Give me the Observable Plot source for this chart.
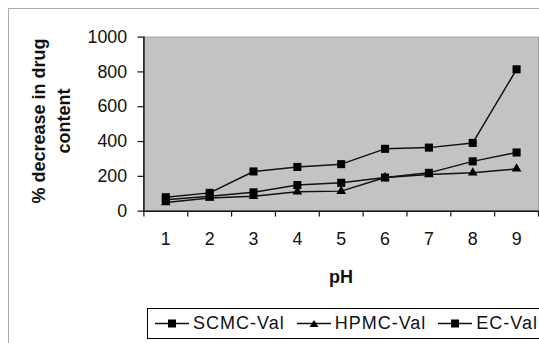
<!DOCTYPE html>
<html>
<head>
<meta charset="utf-8">
<script src="https://cdn.jsdelivr.net/npm/d3@7"></script>
<script src="https://cdn.jsdelivr.net/npm/@observablehq/plot@0.6"></script>
<style>
  html, body { margin: 0; padding: 0; background: #fff; }
  #wrap { position: relative; width: 539px; height: 343px; overflow: hidden; font-family: "Liberation Sans", Arial, sans-serif; color: #111; }
  #border { position: absolute; left: 8px; top: 8px; width: 560px; height: 400px; border: 1px solid #a3adb8; box-sizing: border-box; }
  #chart { position: absolute; left: 0; top: 0; }
  #ytitle { position: absolute; left: 52px; top: 121px; transform: translate(-50%, -50%) rotate(-90deg); font-weight: bold; font-size: 18px; line-height: 25px; text-align: center; white-space: nowrap; }
  #xtitle { position: absolute; left: 341px; top: 277px; transform: translate(-50%, -50%); font-weight: bold; font-size: 18px; }
  #legend { position: absolute; left: 147px; top: 308px; width: 420px; height: 31px; border: 1px solid #000; box-sizing: border-box; display: flex; align-items: center; font-size: 18px; letter-spacing: 1px; white-space: nowrap; }
  #legend .item { display: flex; align-items: center; flex-shrink: 0; margin-left: 7px; margin-right: 5px; }
  #legend svg { margin-right: 4px; flex-shrink: 0; }
</style>
</head>
<body>
<div id="wrap">
  <div id="border"></div>
  <div id="chart"></div>
  <div id="ytitle">% decrease in drug<br>content</div>
  <div id="xtitle">pH</div>
  <div id="legend"></div>
</div>
<script>
const pH = [1, 2, 3, 4, 5, 6, 7, 8, 9];
const scmcVal = [80, 105, 228, 254, 270, 358, 365, 392, 815];
const hpmcVal = [50, 75, 85, 112, 115, 193, 210, 220, 243];
const ecVal = [65, 85, 108, 150, 163, 193, 220, 286, 337];
const seriesNames = ["SCMC-Val", "HPMC-Val", "EC-Val"];
const seriesSymbols = ["square", "triangle", "square"];
const yTicks = [0, 200, 400, 600, 800, 1000];
const xTicks = [1, 2, 3, 4, 5, 6, 7, 8, 9];
const xBoundaryTicks = [0.5, 1.5, 2.5, 3.5, 4.5, 5.5, 6.5, 7.5, 8.5, 9.5];

const seriesValues = [scmcVal, hpmcVal, ecVal];
const data = [];
seriesNames.forEach((name, i) => {
  pH.forEach((p, j) => data.push({series: name, pH: p, value: seriesValues[i][j], symbol: seriesSymbols[i]}));
});

const plot = Plot.plot({
  width: 545,
  height: 343,
  marginLeft: 145,
  marginRight: 1,
  marginTop: 37,
  marginBottom: 130,
  style: {fontFamily: "'Liberation Sans', Arial, sans-serif", fontSize: "18px", color: "#111", background: "transparent"},
  x: {domain: [0.5, 9.5], label: null},
  y: {domain: [0, 1000], label: null},
  symbol: {domain: ["square", "triangle"], range: ["square", "triangle"]},
  marks: [
    Plot.frame({fill: "#c3c3c3", stroke: "#9c9c9c"}),
    Plot.axisY({ticks: yTicks, tickFormat: d => String(d), tickSize: 6, tickPadding: 11, label: null, stroke: "#111", strokeWidth: 1.2}),
    Plot.axisX({ticks: xTicks, tickFormat: d => String(d), tickSize: 0, tickPadding: 21, label: null}),
    Plot.axisX({ticks: xBoundaryTicks, tickSize: 6, tickFormat: () => "", label: null, stroke: "#111", strokeWidth: 1.2}),
    Plot.ruleX([0.5], {stroke: "#111", strokeWidth: 1.5}),
    Plot.ruleY([0], {stroke: "#111", strokeWidth: 1.5}),
    Plot.line(data, {x: "pH", y: "value", z: "series", stroke: "#111", strokeWidth: 1.5}),
    Plot.dot(data.filter(d => d.symbol === "square"), {x: "pH", y: "value", symbol: "symbol", fill: "#000", stroke: "none", r: 4.6}),
    Plot.dot(data.filter(d => d.symbol === "triangle"), {x: "pH", y: "value", symbol: "symbol", fill: "#000", stroke: "none", r: 3.6})
  ]
});
document.getElementById("chart").appendChild(plot);

// Legend
const legend = document.getElementById("legend");
seriesNames.forEach((name, i) => {
  const item = document.createElement("div");
  item.className = "item";
  const marker = seriesSymbols[i] === "square"
    ? '<rect x="13" y="3.5" width="8" height="8" fill="#000"/>'
    : '<path d="M17,4 L21.5,11 L12.5,11 Z" fill="#000"/>';
  item.innerHTML = '<svg width="34" height="15"><line x1="0" y1="7.5" x2="34" y2="7.5" stroke="#111" stroke-width="1.5"/>' + marker + '</svg><span>' + name + '</span>';
  legend.appendChild(item);
});
</script>
</body>
</html>
